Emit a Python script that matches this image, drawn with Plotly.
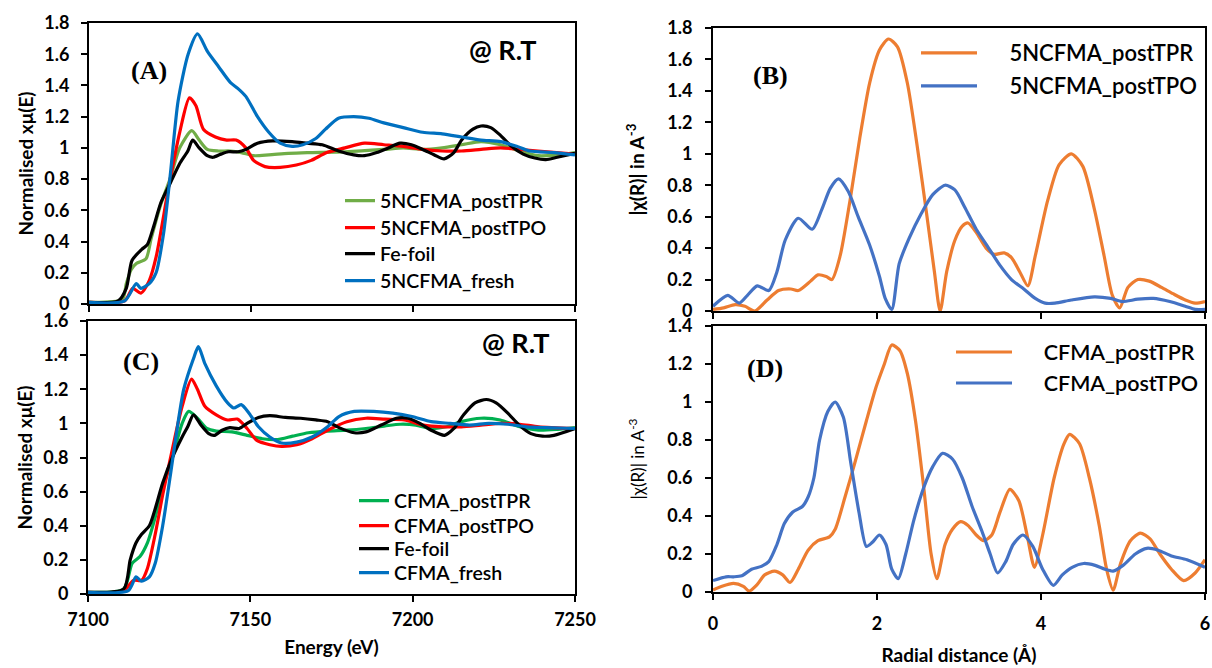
import plotly.graph_objects as go

# ---------------- Panel A (5NCFMA XANES) ----------------
A_tpr_E = [7100, 7110.3, 7111.5, 7113, 7114.6, 7117.6, 7119.2, 7122.2, 7125, 7128, 7131.7, 7134, 7136.5,
           7140, 7143.6, 7147, 7150.8, 7155.5, 7161.5, 7167.4, 7179, 7191, 7197, 7203, 7209, 7215,
           7221, 7227, 7233, 7238.6, 7244.5, 7250]
A_tpr = [0.01, 0.03, 0.13, 0.22, 0.26, 0.29, 0.42, 0.64, 0.8, 1.0, 1.11, 1.05, 0.99,
         0.98, 0.98, 0.97, 0.95, 0.955, 0.965, 0.97, 0.975, 0.99, 1.0, 0.99, 1.0, 1.02,
         1.04, 1.02, 0.98, 0.95, 0.955, 0.97]

A_tpo_E = [7100, 7111, 7113.5, 7116, 7118.6, 7120.7, 7124.6, 7128, 7131, 7133, 7135.3, 7139, 7142.5,
           7145.4, 7148.4, 7150.8, 7154.3, 7159, 7164, 7168.6, 7173.4, 7179, 7185, 7191, 7197, 7203,
           7209, 7215, 7221, 7227, 7233, 7238.6, 7250]
A_tpo = [0.01, 0.02, 0.1, 0.07, 0.15, 0.3, 0.75, 1.1, 1.32, 1.27, 1.12, 1.07, 1.05,
         1.05, 1.0, 0.92, 0.88, 0.875, 0.89, 0.92, 0.97, 1.0, 1.03, 1.02, 1.01, 0.99,
         0.98, 0.98, 0.99, 1.0, 0.99, 0.98, 0.96]

A_fe_E = [7100, 7109, 7111.5, 7113.3, 7116.3, 7118, 7120, 7122.2, 7125.2, 7128, 7130.5, 7132, 7134,
          7136.5, 7138.3, 7140.7, 7143, 7146, 7148.4, 7152, 7156.7, 7162.7, 7167.4, 7172, 7177,
          7181.7, 7185, 7188.8, 7192.4, 7196, 7199.5, 7203, 7206.6, 7209.6, 7212.6, 7215, 7218.5,
          7221, 7224, 7227, 7230.4, 7234, 7237.6, 7241, 7244.5, 7250]
A_fe = [0.01, 0.02, 0.1, 0.28, 0.35, 0.38, 0.5, 0.65, 0.78, 0.9, 0.98, 1.05, 1.0,
        0.95, 0.94, 0.96, 0.975, 0.975, 0.99, 1.03, 1.045, 1.04, 1.03, 1.02, 0.98,
        0.955, 0.95, 0.97, 1.0, 1.03, 1.02, 0.99, 0.955, 0.93, 0.97, 1.05, 1.12,
        1.14, 1.13, 1.08, 1.01, 0.96, 0.935, 0.925, 0.94, 0.965]

A_fresh_E = [7100, 7111, 7114.6, 7116, 7118.6, 7120.7, 7123, 7125.2, 7127.5, 7130.6, 7133.5, 7136.5,
             7140, 7143.6, 7146, 7148.4, 7152, 7155.5, 7159, 7162.7, 7166, 7170, 7173, 7177, 7181.7,
             7186.4, 7191, 7197, 7203, 7209, 7215, 7221, 7227, 7232, 7236, 7243.5, 7250]
A_fresh = [0.01, 0.02, 0.13, 0.1, 0.13, 0.2, 0.45, 0.85, 1.3, 1.6, 1.73, 1.62,
           1.52, 1.42, 1.38, 1.33, 1.2, 1.1, 1.03, 1.01, 1.02, 1.06, 1.12, 1.19, 1.2,
           1.19, 1.16, 1.13, 1.1, 1.09, 1.07, 1.05, 1.04, 1.01, 0.98, 0.97, 0.955]

# ---------------- Panel C (CFMA XANES) ----------------
C_tpr_E = [7100, 7111, 7113.6, 7116, 7118.3, 7120.7, 7123, 7126, 7129, 7131, 7133.7, 7136.6, 7139.5,
           7144.3, 7149, 7153.7, 7158.4, 7163, 7167.9, 7173.8, 7179.7, 7185.6, 7191.5, 7196.2, 7201,
           7205.7, 7210.4, 7215, 7221, 7227, 7233, 7238.8, 7244.7, 7250]
C_tpr = [0.01, 0.03, 0.18, 0.22, 0.3, 0.45, 0.62, 0.8, 1.0, 1.07, 1.03, 0.97, 0.955,
         0.95, 0.93, 0.91, 0.905, 0.925, 0.945, 0.955, 0.96, 0.97, 0.985, 0.995, 0.99,
         0.97, 0.98, 1.01, 1.03, 1.02, 0.98, 0.96, 0.965, 0.975]

C_tpo_E = [7100, 7111, 7114, 7116.5, 7118.3, 7120.7, 7123, 7126, 7129, 7131.9, 7133.7, 7136, 7139.5,
           7143, 7146, 7149, 7152, 7156, 7159.6, 7164.3, 7169, 7173.8, 7179.7, 7185.6, 7191.5,
           7197.4, 7203.3, 7209.2, 7215, 7221, 7227, 7233, 7238.8, 7250]
C_tpo = [0.01, 0.02, 0.08, 0.08, 0.15, 0.35, 0.58, 0.85, 1.1, 1.26, 1.2, 1.1, 1.05,
         1.02, 1.025, 0.97, 0.9, 0.875, 0.865, 0.875, 0.91, 0.96, 1.01, 1.03, 1.025,
         1.02, 0.99, 0.98, 0.98, 0.99, 1.0, 0.995, 0.98, 0.97]

C_fe_E = [7100, 7111, 7113, 7114.8, 7116.5, 7118.9, 7120.7, 7123, 7126, 7129, 7130.7, 7132.5, 7134.8,
          7137.2, 7139, 7141.3, 7143.7, 7146.6, 7149, 7152.5, 7156, 7160.8, 7165.5, 7170.2, 7173.8,
          7177.3, 7182, 7185.6, 7190.3, 7195, 7198.6, 7202.2, 7205.7, 7209.8, 7212.7, 7215.7,
          7219.2, 7222.7, 7225.7, 7229.3, 7232.8, 7236.4, 7240, 7243.5, 7250]
C_fe = [0.01, 0.03, 0.2, 0.3, 0.35, 0.4, 0.5, 0.65, 0.8, 0.92, 0.98, 1.05, 0.99,
        0.94, 0.93, 0.96, 0.975, 0.97, 1.0, 1.035, 1.045, 1.035, 1.03, 1.02, 1.01,
        0.975, 0.945, 0.95, 0.99, 1.03, 1.03, 1.0, 0.96, 0.93, 0.97, 1.05,
        1.12, 1.14, 1.12, 1.06, 0.99, 0.94, 0.925, 0.93, 0.97]

C_fresh_E = [7100, 7112.4, 7114.8, 7116.5, 7118.9, 7120.7, 7123, 7125.4, 7127.7, 7129.5, 7132.5, 7134,
             7136, 7139.5, 7143, 7144.9, 7147.2, 7149.6, 7152.5, 7156, 7159.6, 7164.3, 7169, 7173.8,
             7177.3, 7182, 7188, 7193.9, 7199.8, 7205.7, 7211.6, 7217.5, 7223.4, 7229.3, 7235, 7241, 7250]
C_fresh = [0.01, 0.02, 0.1, 0.075, 0.1, 0.18, 0.4, 0.7, 1.0, 1.2, 1.38, 1.45,
           1.35, 1.22, 1.12, 1.09, 1.11, 1.06, 0.98, 0.92, 0.885, 0.89, 0.92, 0.98,
           1.04, 1.07, 1.07, 1.06, 1.04, 1.01, 1.0, 0.99, 1.0, 0.995, 0.98, 0.975, 0.97]

# ---------------- Panel B (5NCFMA FT-EXAFS) ----------------
B_tpr_R = [0, 0.13, 0.27, 0.39, 0.51, 0.66, 0.8, 0.95, 1.04, 1.19, 1.28, 1.38, 1.45, 1.55, 1.67, 1.79,
           1.91, 2.03, 2.14, 2.25, 2.37, 2.49, 2.61, 2.7, 2.77, 2.85, 2.95, 3.04, 3.11, 3.21, 3.33,
           3.43, 3.55, 3.64, 3.74, 3.84, 3.93, 4.08, 4.22, 4.37, 4.51, 4.65, 4.77, 4.87, 4.96, 5.06,
           5.18, 5.32, 5.47, 5.61, 5.76, 5.88, 6.0]
B_tpr = [0.01, 0.02, 0.04, 0.03, 0.0, 0.07, 0.13, 0.14, 0.13, 0.19, 0.23, 0.22, 0.2, 0.35, 0.7, 1.1,
         1.45, 1.66, 1.73, 1.68, 1.45, 1.05, 0.6, 0.25, 0.0, 0.25, 0.45, 0.54, 0.56, 0.5, 0.4,
         0.36, 0.37, 0.34, 0.25, 0.16, 0.35, 0.7, 0.93, 1.0, 0.92, 0.65, 0.35, 0.1, 0.02, 0.15,
         0.2, 0.19, 0.15, 0.11, 0.07, 0.05, 0.06]

B_tpo_R = [0, 0.18, 0.32, 0.42, 0.54, 0.68, 0.78, 0.88, 1.04, 1.21, 1.33, 1.43, 1.53, 1.65, 1.77, 1.91,
           2.03, 2.1, 2.18, 2.27, 2.39, 2.54, 2.68, 2.83, 2.95, 3.07, 3.21, 3.35, 3.5, 3.64, 3.79,
           3.93, 4.05, 4.17, 4.37, 4.65, 4.85, 4.99, 5.18, 5.37, 5.57, 5.76, 5.88, 6.0]
B_tpo = [0.03, 0.1, 0.05, 0.1, 0.16, 0.13, 0.25, 0.45, 0.59, 0.52, 0.65, 0.78, 0.84, 0.76, 0.6, 0.42,
         0.22, 0.08, 0.01, 0.3, 0.46, 0.62, 0.74, 0.8, 0.77, 0.66, 0.52, 0.41, 0.29, 0.2, 0.14,
         0.08, 0.05, 0.05, 0.07, 0.09, 0.08, 0.06, 0.075, 0.08, 0.06, 0.03, 0.01, 0.01]

# ---------------- Panel D (CFMA FT-EXAFS) ----------------
D_tpr_R = [0, 0.11, 0.25, 0.37, 0.44, 0.54, 0.63, 0.75, 0.85, 0.94, 1.04, 1.16, 1.28, 1.42, 1.49, 1.61,
           1.73, 1.87, 1.99, 2.09, 2.18, 2.28, 2.37, 2.47, 2.57, 2.66, 2.73, 2.83, 2.92, 3.02, 3.11,
           3.21, 3.3, 3.4, 3.5, 3.62, 3.73, 3.83, 3.92, 4.02, 4.16, 4.28, 4.35, 4.47, 4.59, 4.71,
           4.8, 4.88, 4.97, 5.09, 5.21, 5.33, 5.45, 5.59, 5.74, 5.88, 6.0]
D_tpr = [0.01, 0.03, 0.045, 0.03, 0.005, 0.04, 0.09, 0.11, 0.09, 0.05, 0.12, 0.22, 0.27, 0.29, 0.33, 0.5,
         0.68, 0.9, 1.08, 1.2, 1.3, 1.27, 1.15, 0.9, 0.55, 0.2, 0.07, 0.25, 0.33, 0.37, 0.35,
         0.3, 0.27, 0.3, 0.42, 0.54, 0.48, 0.3, 0.13, 0.3, 0.6, 0.78, 0.83, 0.78, 0.6, 0.35,
         0.12, 0.01, 0.15, 0.27, 0.31, 0.28, 0.2, 0.12, 0.06, 0.1, 0.17]

D_tpo_R = [0, 0.16, 0.25, 0.35, 0.47, 0.59, 0.68, 0.78, 0.87, 0.97, 1.09, 1.16, 1.23, 1.3, 1.4, 1.49,
           1.59, 1.68, 1.78, 1.87, 1.94, 2.03, 2.11, 2.18, 2.26, 2.35, 2.45, 2.57, 2.68, 2.8, 2.92,
           3.04, 3.16, 3.28, 3.38, 3.47, 3.57, 3.66, 3.78, 3.9, 4.02, 4.15, 4.26, 4.38, 4.52, 4.66,
           4.78, 4.88, 5.0, 5.15, 5.29, 5.43, 5.59, 5.78, 6.0]
D_tpo = [0.06, 0.08, 0.08, 0.085, 0.12, 0.135, 0.16, 0.25, 0.36, 0.42, 0.45, 0.5, 0.6, 0.8, 0.95, 1.0,
         0.92, 0.68, 0.42, 0.24, 0.26, 0.3, 0.25, 0.12, 0.07, 0.2, 0.38, 0.55, 0.66, 0.73, 0.7,
         0.6, 0.45, 0.32, 0.2, 0.1, 0.16, 0.25, 0.3, 0.24, 0.12, 0.035, 0.09, 0.13, 0.15, 0.14,
         0.12, 0.11, 0.14, 0.2, 0.23, 0.22, 0.19, 0.17, 0.13]

W, H = 1212, 668
FONT = "Lato, 'Open Sans', sans-serif"


def px(x0, x1):
    return [x0 / W, x1 / W]


def py(top, bottom):
    return [1 - bottom / H, 1 - top / H]


GREEN_A, GREEN_C, RED, BLACK, BLUE = "#70AD47", "#00B050", "#FF0000", "#000000", "#0070C0"
ORANGE, BLUE2 = "#ED7D31", "#4472C4"
NB = "\u00a0" * 5

# (x, y, name, colour, xaxis, yaxis, legend sample start x, legend row y, legend font size, item width)
series = [
    (A_tpr_E, A_tpr, "5NCFMA_postTPR", GREEN_A, "x", "y", 344, 201, 19.5, 30),
    (A_tpo_E, A_tpo, "5NCFMA_postTPO", RED, "x", "y", 344, 228, 19.5, 30),
    (A_fe_E, A_fe, "Fe-foil", BLACK, "x", "y", 344, 254, 19.5, 30),
    (A_fresh_E, A_fresh, "5NCFMA_fresh", BLUE, "x", "y", 344, 281, 19.5, 30),
    (C_tpr_E, C_tpr, "CFMA_postTPR", GREEN_C, "x3", "y3", 358, 501, 19.5, 30),
    (C_tpo_E, C_tpo, "CFMA_postTPO", RED, "x3", "y3", 358, 526, 19.5, 30),
    (C_fe_E, C_fe, "Fe-foil", BLACK, "x3", "y3", 358, 549, 19.5, 30),
    (C_fresh_E, C_fresh, "CFMA_fresh", BLUE, "x3", "y3", 358, 573, 19.5, 30),
    (B_tpr_R, B_tpr, NB + "5NCFMA_postTPR", ORANGE, "x2", "y2", 920, 53, 22, 56),
    (B_tpo_R, B_tpo, NB + "5NCFMA_postTPO", BLUE2, "x2", "y2", 920, 86, 22, 56),
    (D_tpr_R, D_tpr, NB + "CFMA_postTPR", ORANGE, "x4", "y4", 955, 352, 21.5, 56),
    (D_tpo_R, D_tpo, NB + "CFMA_postTPO", BLUE2, "x4", "y4", 955, 383, 21.5, 56),
]

fig = go.Figure()
legends = {}
for i, (x, y, name, color, xa, ya, lx, ly, fs, iw) in enumerate(series):
    key = "legend" if i == 0 else f"legend{i + 1}"
    fig.add_trace(go.Scatter(x=x, y=y, name=name, mode="lines",
                             line=dict(color=color, width=3.2, shape="spline", smoothing=0.7),
                             xaxis=xa, yaxis=ya, legend=key))
    legends[key] = dict(x=(lx - 4) / W, y=1 - ly / H, xanchor="left", yanchor="middle",
                        bgcolor="rgba(0,0,0,0)", itemwidth=iw,
                        font=dict(family=FONT, size=fs, color="black", weight=600))

tickfont = dict(family=FONT, size=18, color="black", weight="bold")
titlefont = dict(family=FONT, size=19, color="black", weight="bold")


def axis(domain, rng, dtick, showlabels, title=None, standoff=None, tfont=None, anchor=None, tls=0):
    d = dict(domain=domain, range=rng, dtick=dtick, showline=True, linecolor="black", linewidth=2,
             mirror=True, ticks="outside", ticklen=6, tickwidth=1.5, tickcolor="black",
             showgrid=False, zeroline=False, showticklabels=showlabels, tickfont=tickfont,
             anchor=anchor, automargin=False, ticklabelstandoff=tls)
    if title:
        d["title"] = dict(text=title, font=tfont or titlefont, standoff=standoff)
    return d


fig.update_layout(
    width=W, height=H, margin=dict(l=0, r=0, t=0, b=0, autoexpand=False),
    paper_bgcolor="white", plot_bgcolor="white", showlegend=True,
    xaxis=axis(px(89, 575), [7100, 7250], 50, False, anchor="y"),
    yaxis=axis(py(23, 304), [0, 1.8], 0.2, True, "Normalised xμ(E)", 6, anchor="x", tls=8),
    xaxis3=axis(px(88, 575), [7100, 7250], 50, True, "Energy (eV)", 12, anchor="y3", tls=2),
    yaxis3=axis(py(321, 594), [0, 1.6], 0.2, True, "Normalised xμ(E)", 6, anchor="x3", tls=8),
    xaxis2=axis(px(713, 1205), [0, 6], 2, False, anchor="y2"),
    yaxis2=axis(py(28, 311), [0, 1.8], 0.2, True, "|χ(R)| in A<sup>-3</sup>", 18, anchor="x2", tls=9),
    xaxis4=axis(px(713, 1205), [0, 6], 2, True, "Radial distance (Å)", 16, anchor="y4", tls=8),
    yaxis4=axis(py(326, 592), [0, 1.4], 0.2, True, "|χ(R)| in A<sup>-3</sup>", 18,
                tfont=dict(family=FONT, size=17, color="black"), anchor="x4", tls=9),
    **legends,
)

serif = dict(family="'Liberation Serif', 'Times New Roman', serif", size=26, color="black", weight="bold")
rt = dict(family=FONT, size=27, color="black", weight="bold")
for txt, x, y, f in [("(A)", 149, 71, serif), ("@ R.T", 503, 50, rt),
                     ("(C)", 141, 361, serif), ("@ R.T", 516, 342, rt),
                     ("(B)", 770, 75, serif), ("(D)", 765, 368, serif)]:
    fig.add_annotation(text=txt, x=x / W, y=1 - y / H, xref="paper", yref="paper",
                       showarrow=False, font=f, xanchor="center", yanchor="middle")

fig.write_html("out.html", config={"displayModeBar": False},
               post_script="document.body.style.margin='0px';")
